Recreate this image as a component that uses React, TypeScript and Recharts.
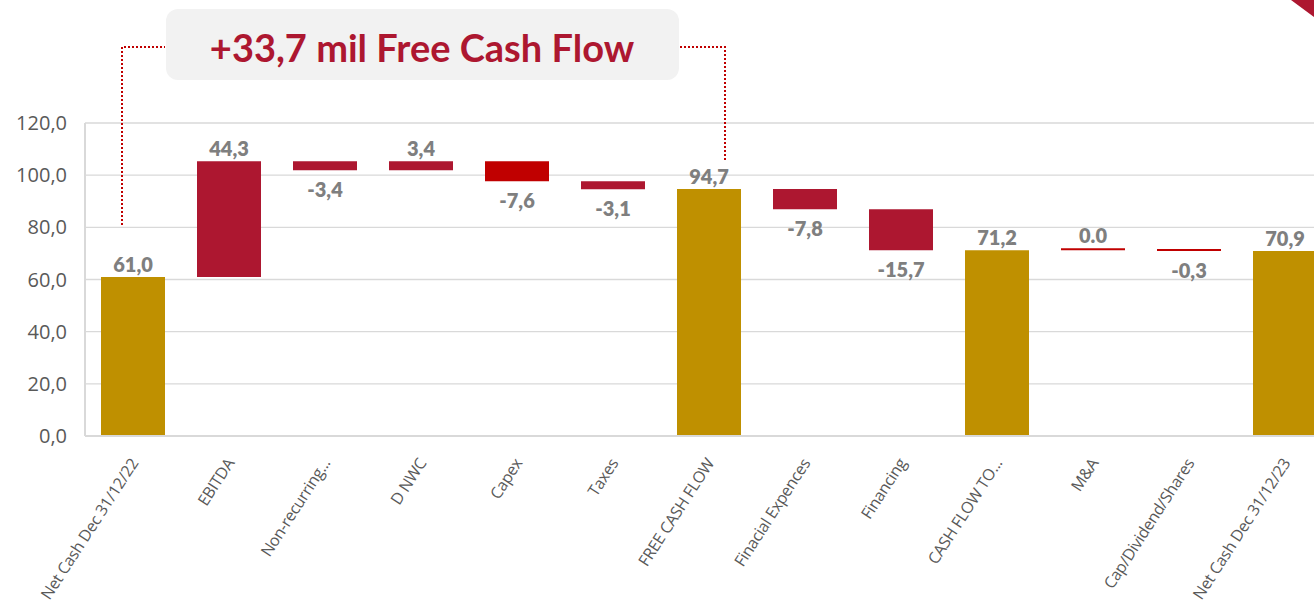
import React from 'react';
import { BarChart, Bar, XAxis, YAxis, CartesianGrid, Cell, LabelList } from 'recharts';

const categories = [
  'Net Cash Dec 31/12/22',
  'EBITDA',
  'Non-recurring...',
  'D NWC',
  'Capex',
  'Taxes',
  'FREE CASH FLOW',
  'Finacial Expences',
  'Financing',
  'CASH FLOW TO...',
  'M&A',
  'Cap/Dividend/Shares',
  'Net Cash Dec 31/12/23',
];
const values = [61.0, 44.3, -3.4, 3.4, -7.6, -3.1, 94.7, -7.8, -15.7, 71.2, 0.0, -0.3, 70.9];
const isTotal = [true, false, false, false, false, false, true, false, false, true, false, false, true];
const valueLabels = ['61,0', '44,3', '-3,4', '3,4', '-7,6', '-3,1', '94,7', '-7,8', '-15,7', '71,2', '0.0', '-0,3', '70,9'];
const yTicks = [0, 20, 40, 60, 80, 100, 120];
const titleText = '+33,7 mil Free Cash Flow';

const GOLD = '#BF9000';
const DARK_RED = '#AD1730';
const BRIGHT_RED = '#C00000';
const barColors = [GOLD, DARK_RED, DARK_RED, DARK_RED, BRIGHT_RED, DARK_RED, GOLD, DARK_RED, DARK_RED, GOLD, BRIGHT_RED, BRIGHT_RED, GOLD];

// build waterfall ranges
const rows = (() => {
  let running = 0;
  return categories.map((name, i) => {
    const v = values[i];
    let range: [number, number];
    if (isTotal[i]) {
      range = [0, v];
      running = v;
    } else {
      const next = running + v;
      range = [Math.min(running, next), Math.max(running, next)];
      running = next;
    }
    return { name, range };
  });
})();

const XTick = (props: any) => {
  const { x, y, payload } = props;
  return (
    <g transform={`translate(${x + 6},${y + 19})`}>
      <text
        x={0}
        y={0}
        textAnchor="end"
        transform="rotate(-57)"
        fill="#595959"
        fontSize={16}
        fontFamily="'Open Sans', sans-serif"
        letterSpacing={-0.3}
      >
        {payload.value}
      </text>
    </g>
  );
};

const ValueLabel = (props: any) => {
  const { x, y, width, height, index } = props;
  const top = Math.min(y, y + height);
  const bottom = Math.max(y, y + height);
  const below = !isTotal[index] && values[index] < 0;
  const ty = below ? bottom + 27 : top - 5;
  return (
    <text
      x={x + width / 2}
      y={ty}
      textAnchor="middle"
      fill="#7F7F7F"
      fontSize={20}
      fontWeight={800}
      fontFamily="Lato, sans-serif"
    >
      {valueLabels[index]}
    </text>
  );
};

export default function App() {
  return (
    <div style={{ position: 'absolute', left: 0, top: 0, width: 1314, height: 606, overflow: 'hidden', background: '#fff' }}>
      <BarChart
        width={1350}
        height={606}
        data={rows}
        margin={{ top: 123, right: 17, left: 0, bottom: 0 }}
        barCategoryGap={16}
      >
        <CartesianGrid vertical={false} stroke="#D9D9D9" strokeWidth={1.4} />
        <YAxis
          width={85}
          domain={[0, 120]}
          ticks={yTicks}
          interval={0}
          tickLine={false}
          tickMargin={12}
          axisLine={{ stroke: '#D9D9D9', strokeWidth: 2 }}
          tick={{ fill: '#595959', fontSize: 20, fontFamily: "'Open Sans', sans-serif" }}
          tickFormatter={(v: number) => v.toFixed(1).replace('.', ',')}
        />
        <XAxis
          dataKey="name"
          height={170}
          interval={0}
          tickLine={false}
          axisLine={{ stroke: '#D9D9D9', strokeWidth: 2 }}
          tick={<XTick />}
        />
        <Bar dataKey="range" isAnimationActive={false} minPointSize={2}>
          {rows.map((r, i) => (
            <Cell key={r.name} fill={barColors[i]} />
          ))}
          <LabelList dataKey="range" content={<ValueLabel />} />
        </Bar>
      </BarChart>
      <svg
        width={1314}
        height={606}
        style={{ position: 'absolute', left: 0, top: 0, pointerEvents: 'none' }}
      >
        <polygon points="1291,0 1314,0 1314,17" fill={DARK_RED} />
        <polyline points="122,225 122,47 165,47" fill="none" stroke={BRIGHT_RED} strokeWidth={2} strokeDasharray="2 2" />
        <polyline points="680,47 725,47 725,160" fill="none" stroke={BRIGHT_RED} strokeWidth={2} strokeDasharray="2 2" />
        <rect x={166} y={9} width={513} height={71} rx={12} ry={12} fill="#F2F2F2" />
        <text
          x={422}
          y={62}
          textAnchor="middle"
          fill={DARK_RED}
          fontSize={38}
          fontWeight={700}
          fontFamily="Lato, sans-serif"
        >
          {titleText}
        </text>
      </svg>
    </div>
  );
}
